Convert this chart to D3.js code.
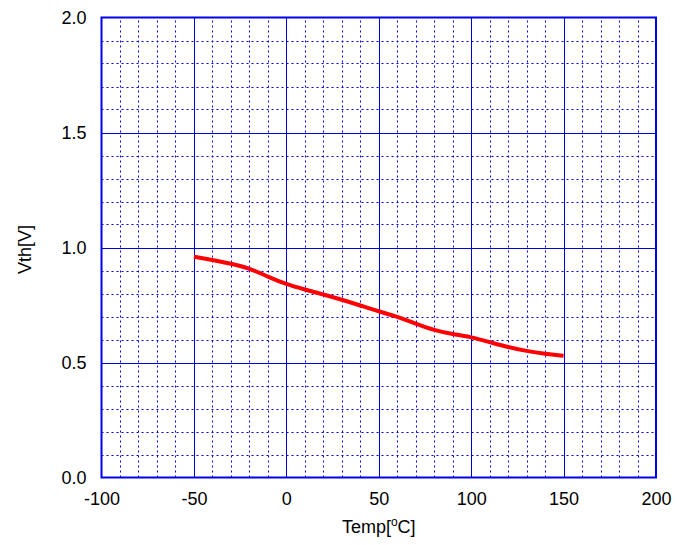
<!DOCTYPE html>
<html>
<head>
<meta charset="utf-8">
<script src="https://cdn.jsdelivr.net/npm/d3@7"></script>
<style>
  body { margin: 0; background: #fff; }
  text { font-family: "Liberation Sans", Arial, sans-serif; }
</style>
</head>
<body>
<script>
// temperature [°C] and threshold voltage [V]
var temps = [-50, -40, -30, -20, -10, 0, 10, 20, 30, 40, 50, 60, 70, 80, 90, 100, 110, 120, 130, 140, 150]
var vth = [0.96, 0.946, 0.93, 0.91, 0.873, 0.84, 0.817, 0.796, 0.773, 0.748, 0.722, 0.70, 0.669, 0.64, 0.623, 0.611, 0.589, 0.566, 0.55, 0.538, 0.529]

var xTicks = [-100, -50, 0, 50, 100, 150, 200]
var yTicks = [0, 0.5, 1.0, 1.5, 2.0]
var xLabel = "Temp["
var yLabel = "Vth[V]"

var datos = temps.map(function(t, i) { return {t: t, v: vth[i]} })

var width = 688
var height = 545
var margin = {top: 17.5, bottom: 67.5, left: 101.5, right: 32}
var fontSize = 18

var escalaX = d3.scaleLinear()
  .domain([-100, 200])
  .range([margin.left, width - margin.right])

var escalaY = d3.scaleLinear()
  .domain([0, 2])
  .range([height - margin.bottom, margin.top])

var svg = d3.select("body")
  .append("svg")
  .attr("width", width)
  .attr("height", height)

// minor grid (dotted)
var minorX = d3.range(-90, 200, 10).filter(function(d) { return d % 50 != 0 })
var minorY = d3.range(1, 20).map(function(d) { return d / 10 }).filter(function(d, i) { return (i + 1) % 5 != 0 })

svg.append("g")
  .selectAll("line")
  .data(minorX)
  .enter()
  .append("line")
    .attr("x1", d => Math.round(escalaX(d)) + 0.5)
    .attr("x2", d => Math.round(escalaX(d)) + 0.5)
    .attr("y1", escalaY(0))
    .attr("y2", escalaY(2))
    .attr("stroke", "#0000ee")
    .attr("stroke-width", 1)
    .attr("stroke-dasharray", "2,3")

svg.append("g")
  .selectAll("line")
  .data(minorY)
  .enter()
  .append("line")
    .attr("x1", escalaX(-100))
    .attr("x2", escalaX(200))
    .attr("y1", d => Math.round(escalaY(d)) + 0.5)
    .attr("y2", d => Math.round(escalaY(d)) + 0.5)
    .attr("stroke", "#0000ee")
    .attr("stroke-width", 1)
    .attr("stroke-dasharray", "2,3")

// major grid
svg.append("g")
  .selectAll("line")
  .data(xTicks.slice(1, -1))
  .enter()
  .append("line")
    .attr("x1", d => Math.round(escalaX(d)) + 0.5)
    .attr("x2", d => Math.round(escalaX(d)) + 0.5)
    .attr("y1", escalaY(0))
    .attr("y2", escalaY(2))
    .attr("stroke", "#0000dd")
    .attr("stroke-width", 1)

svg.append("g")
  .selectAll("line")
  .data(yTicks.slice(1, -1))
  .enter()
  .append("line")
    .attr("x1", escalaX(-100))
    .attr("x2", escalaX(200))
    .attr("y1", d => Math.round(escalaY(d)) + 0.5)
    .attr("y2", d => Math.round(escalaY(d)) + 0.5)
    .attr("stroke", "#0000dd")
    .attr("stroke-width", 1)

// frame
svg.append("rect")
  .attr("x", escalaX(-100))
  .attr("y", escalaY(2))
  .attr("width", escalaX(200) - escalaX(-100))
  .attr("height", escalaY(0) - escalaY(2))
  .attr("fill", "none")
  .attr("stroke", "#0000ee")
  .attr("stroke-width", 2)

// axes (labels only, grid lines are drawn above)
var ejeX = d3.axisBottom(escalaX)
  .tickValues(xTicks)
  .tickSize(0)
  .tickPadding(15)
  .tickFormat(d => String(d))
svg.append("g")
  .attr("transform", "translate(0," + escalaY(0) + ")")
  .call(ejeX)
  .call(g => g.select(".domain").remove())
  .selectAll("text")
    .attr("font-size", fontSize)
    .attr("fill", "#000")
    .attr("font-family", "Liberation Sans, Arial, sans-serif")

var ejeY = d3.axisLeft(escalaY)
  .tickValues(yTicks)
  .tickSize(0)
  .tickPadding(15)
  .tickFormat(d3.format(".1f"))
svg.append("g")
  .attr("transform", "translate(" + escalaX(-100) + ",0)")
  .call(ejeY)
  .call(g => g.select(".domain").remove())
  .selectAll("text")
    .attr("font-size", fontSize)
    .attr("fill", "#000")
    .attr("font-family", "Liberation Sans, Arial, sans-serif")

// curve
svg.append("path")
  .datum(datos)
  .attr("fill", "none")
  .attr("stroke", "#ff0000")
  .attr("stroke-width", 4)
  .attr("d", d3.line()
    .curve(d3.curveBasis)
    .x(d => escalaX(d.t))
    .y(d => escalaY(d.v)))

// axis titles
var tx = svg.append("text")
  .attr("x", (escalaX(-100) + escalaX(200)) / 2)
  .attr("y", 533)
  .attr("text-anchor", "middle")
  .attr("font-size", fontSize)
  .attr("fill", "#000")
tx.append("tspan").text(xLabel)
tx.append("tspan").attr("font-size", 12).attr("dy", -7).text("o")
tx.append("tspan").attr("dy", 7).text("C]")

svg.append("text")
  .attr("transform", "translate(31," + (escalaY(1) + 2) + ") rotate(-90)")
  .attr("text-anchor", "middle")
  .attr("font-size", fontSize)
  .attr("fill", "#000")
  .text(yLabel)
</script>
</body>
</html>
